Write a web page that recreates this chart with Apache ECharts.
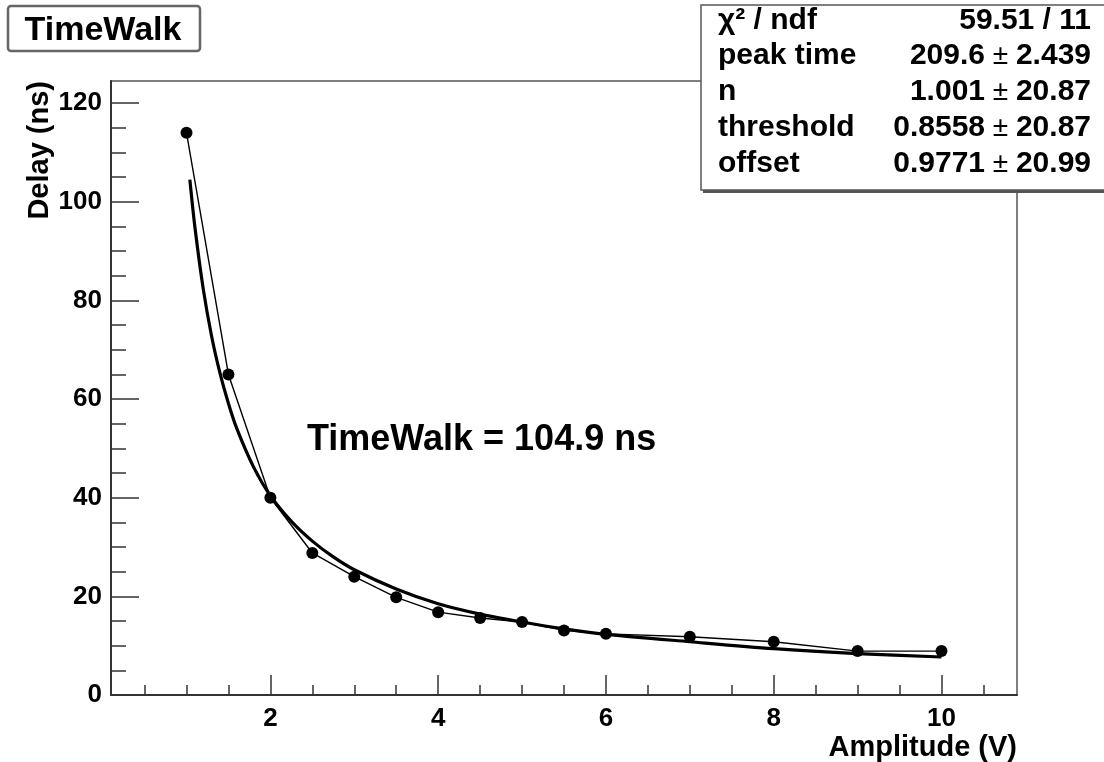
<!DOCTYPE html>
<html>
<head>
<meta charset="utf-8">
<script src="https://cdn.jsdelivr.net/npm/echarts@6/dist/echarts.min.js"></script>
<style>
html,body{margin:0;padding:0;background:#fff;}
#chart{width:1104px;height:762px;}
</style>
</head>
<body>
<div id="chart"></div>
<script>
// ---- data ----
const dataX = [1, 1.5, 2, 2.5, 3, 3.5, 4, 4.5, 5, 5.5, 6, 7, 8, 9, 10];
const dataY = [114, 65, 40, 28.8, 24, 19.8, 16.8, 15.6, 14.8, 13.1, 12.4, 11.8, 10.8, 8.9, 8.9];

const fitX = [1.04, 1.1, 1.2, 1.3, 1.4, 1.5, 1.6, 1.8, 2, 2.25, 2.5, 2.75, 3, 3.5, 4, 4.5, 5, 5.5, 6, 7, 8, 9, 10];
const fitY = [104.5, 94.9, 82.3, 72.7, 65.2, 59.1, 54.0, 46.2, 40.4, 35.2, 31.2, 28.0, 25.4, 21.5, 18.5, 16.4, 14.8, 13.4, 12.3, 10.8, 9.4, 8.4, 7.7];

const xMajorTicks = [2, 4, 6, 8, 10];
const xMinorTicks = [0.5, 1, 1.5, 2.5, 3, 3.5, 4.5, 5, 5.5, 6.5, 7, 7.5, 8.5, 9, 9.5, 10.5];
const yMajorTicks = [0, 20, 40, 60, 80, 100, 120];
const yMinorTicks = [5, 10, 15, 25, 30, 35, 45, 50, 55, 65, 70, 75, 85, 90, 95, 105, 110, 115];

const titleText = 'TimeWalk';
const annotationText = 'TimeWalk = 104.9 ns';
const xTitle = 'Amplitude (V)';
const yTitle = 'Delay (ns)';
const statNames = ['χ² / ndf', 'peak time', 'n', 'threshold', 'offset'];
const statValues = [['59.51 / 11', null], ['209.6', '2.439'], ['1.001', '20.87'], ['0.8558', '20.87'], ['0.9771', '20.99']];

const FONT = '"Liberation Sans", Arial, Helvetica, sans-serif';
const xMin = 0.1, xMax = 10.9, yMin = 0, yMax = 124.5;

const chart = echarts.init(document.getElementById('chart'), null, {renderer: 'canvas'});

const statGraphics = [];
const rowY = [21, 56, 92, 128, 164];
statNames.forEach((n, i) => {
  statGraphics.push({
    type: 'text', x: 718, y: rowY[i], z: 12,
    style: {text: n, font: 'bold 30px ' + FONT, fill: '#000', align: 'left', verticalAlign: 'middle'}
  });
  const v = statValues[i];
  const txt = v[1] === null ? '{b|' + v[0] + '}' : '{b|' + v[0] + '}{p| ± }{b|' + v[1] + '}';
  statGraphics.push({
    type: 'text', z: 12,
    x: 1091, y: rowY[i],
    style: {
      text: txt, align: 'right', verticalAlign: 'middle',
      rich: {
        b: {font: 'bold 30px ' + FONT, fill: '#000'},
        p: {font: 'normal 28px ' + FONT, fill: '#000'}
      }
    }
  });
});

const option = {
  backgroundColor: '#fff',
  animation: false,
  grid: {left: 111, top: 81, right: 87, bottom: 67, containLabel: false, outerBoundsMode: 'none',
         show: true, borderColor: '#555', borderWidth: 1.5, backgroundColor: 'transparent'},
  xAxis: [
    {
      type: 'value', min: xMin, max: xMax, position: 'bottom',
      axisLine: {show: true, onZero: false, lineStyle: {color: '#333', width: 2}},
      axisTick: {show: true, inside: true, length: 20, customValues: xMajorTicks, lineStyle: {color: '#333', width: 1.5}},
      axisLabel: {show: true, customValues: xMajorTicks, margin: 11, color: '#000', fontSize: 26, fontWeight: 'bold', fontFamily: FONT},
      splitLine: {show: false},
      name: xTitle, nameLocation: 'end', nameGap: 0, nameMoveOverlap: false,
      nameTextStyle: {align: 'right', verticalAlign: 'top', padding: [38, 0, 0, 0], color: '#000', fontSize: 29, fontWeight: 'bold', fontFamily: FONT}
    },
    {
      type: 'value', min: xMin, max: xMax, position: 'bottom',
      axisLine: {show: false},
      axisTick: {show: true, inside: true, length: 10, customValues: xMinorTicks, lineStyle: {color: '#333', width: 1.5}},
      axisLabel: {show: false},
      splitLine: {show: false}
    }
  ],
  yAxis: [
    {
      type: 'value', min: yMin, max: yMax, position: 'left',
      axisLine: {show: true, onZero: false, lineStyle: {color: '#333', width: 2}},
      axisTick: {show: true, inside: true, length: 28, customValues: yMajorTicks, lineStyle: {color: '#333', width: 1.5}},
      axisLabel: {show: true, customValues: yMajorTicks, margin: 9, color: '#000', fontSize: 26, fontWeight: 'bold', fontFamily: FONT},
      splitLine: {show: false},
      name: yTitle, nameLocation: 'end', nameGap: 0, nameRotate: 90, nameMoveOverlap: false,
      nameTextStyle: {align: 'right', verticalAlign: 'bottom', padding: [0, 0, 57, 0], color: '#000', fontSize: 29, fontWeight: 'bold', fontFamily: FONT}
    },
    {
      type: 'value', min: yMin, max: yMax, position: 'left',
      axisLine: {show: false},
      axisTick: {show: true, inside: true, length: 15, customValues: yMinorTicks, lineStyle: {color: '#333', width: 1.5}},
      axisLabel: {show: false},
      splitLine: {show: false}
    }
  ],
  series: [
    {
      name: 'fit', type: 'line', xAxisIndex: 0, yAxisIndex: 0,
      data: fitX.map((x, i) => [x, fitY[i]]),
      smooth: 0.3, showSymbol: false, symbol: 'none',
      lineStyle: {color: '#000', width: 3.2}, z: 3
    },
    {
      name: 'data', type: 'line', xAxisIndex: 0, yAxisIndex: 0,
      data: dataX.map((x, i) => [x, dataY[i]]),
      symbol: 'circle', symbolSize: 12, showSymbol: true,
      itemStyle: {color: '#000'},
      lineStyle: {color: '#000', width: 1.4}, z: 4
    }
  ],
  graphic: [
    {
      type: 'group', z: 10,
      children: [
        {type: 'rect', shape: {x: 8, y: 6, width: 192, height: 45, r: 3}, style: {fill: '#fff', stroke: '#666', lineWidth: 2.5}},
        {type: 'text', x: 103, y: 31, style: {text: titleText, align: 'center', verticalAlign: 'middle', font: 'bold 34px ' + FONT, fill: '#000'}}
      ]
    },
    {type: 'text', x: 307, y: 440, z: 10, style: {text: annotationText, align: 'left', verticalAlign: 'middle', font: 'bold 36px ' + FONT, fill: '#000'}},
    {type: 'rect', z: 11, shape: {x: 703, y: 7, width: 420, height: 186}, style: {fill: '#555'}},
    {type: 'rect', z: 11, shape: {x: 701, y: 5, width: 420, height: 185}, style: {fill: '#fff', stroke: '#555', lineWidth: 1.5}}
  ].concat(statGraphics)
};
chart.setOption(option);
</script>
</body>
</html>
